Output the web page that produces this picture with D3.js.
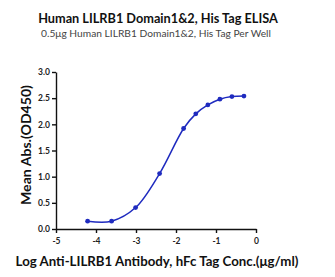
<html>
<head>
    <meta charset="utf-8">
    <script src="https://d3js.org/d3.v7.min.js"></script>
    <style>
        body {
            margin: 0;
            background-color: white;
            font-family: Lato, "Open Sans", Arial, sans-serif;
        }
        .axis path, .axis line {
            stroke: #111;
            stroke-width: 1.4px;
        }
        .axis text {
            font-family: Lato, Arial, sans-serif;
            font-weight: bold;
            font-size: 8.5px;
            fill: #222;
        }
    </style>
</head>
<body>
    <div id="chart"></div>
    <script>
        // log10 concentration (ug/ml) and mean OD450
        var logConc = [-4.21, -3.61, -3.01, -2.41, -1.81, -1.505, -1.204, -0.903, -0.602, -0.301];
        var meanAbs = [0.15, 0.15, 0.41, 1.06, 1.92, 2.20, 2.37, 2.48, 2.53, 2.54];
        var xTicks = [-5, -4, -3, -2, -1, 0];
        var yTicks = [0, 0.5, 1.0, 1.5, 2.0, 2.5, 3.0];

        var width = 335,
            height = 277,
            margin = { top: 72, right: 79, bottom: 48, left: 56 },
            color = "#1f2bbf";

        var svg = d3.select("#chart").append("svg")
            .attr("width", width)
            .attr("height", height);

        var x = d3.scaleLinear().domain([-5, 0]).range([margin.left, width - margin.right]);
        var y = d3.scaleLinear().domain([0, 3]).range([height - margin.bottom, margin.top]);

        var data = logConc.map(function (d, i) { return { x: d, y: meanAbs[i] }; });

        // scale a text's font so it spans the given width
        function fit(sel, w) {
            var fs = parseFloat(sel.style("font-size"));
            var len = sel.node().getComputedTextLength();
            sel.style("font-size", (fs * w / len).toFixed(2) + "px");
        }

        // titles
        svg.append("text")
            .attr("x", 158).attr("y", 23)
            .attr("text-anchor", "middle")
            .style("font-weight", "bold")
            .style("font-size", "12px")
            .style("fill", "#111")
            .text("Human LILRB1 Domain1&2, His Tag ELISA")
            .call(fit, 240);
        svg.append("text")
            .attr("x", 156).attr("y", 37)
            .attr("text-anchor", "middle")
            .style("font-size", "10px")
            .style("fill", "#444")
            .text("0.5\u03bcg Human LILRB1 Domain1&2, His Tag Per Well")
            .call(fit, 230);

        // axes
        svg.append("g")
            .attr("class", "axis")
            .attr("transform", "translate(0," + y(0) + ")")
            .call(d3.axisBottom(x).tickValues(xTicks).tickSize(4).tickSizeOuter(0).tickPadding(5)
                .tickFormat(function (d) { return String(d); }));

        svg.append("g")
            .attr("class", "axis")
            .attr("transform", "translate(" + x(-5) + ",0)")
            .call(d3.axisLeft(y).tickValues(yTicks).tickSize(4).tickSizeOuter(0).tickPadding(2)
                .tickFormat(function (d) { return d.toFixed(1); }));

        // axis titles
        svg.append("text")
            .attr("x", 157).attr("y", 266)
            .attr("text-anchor", "middle")
            .style("font-weight", "bold")
            .style("font-size", "11px")
            .style("fill", "#111")
            .text("Log Anti-LILRB1 Antibody, hFc Tag Conc.(\u03bcg/ml)")
            .call(fit, 283);
        svg.append("text")
            .attr("transform", "translate(31,145) rotate(-90)")
            .attr("text-anchor", "middle")
            .style("font-weight", "bold")
            .style("font-size", "11px")
            .style("fill", "#111")
            .text("Mean Abs.(OD450)")
            .call(fit, 120);

        // fitted curve
        var line = d3.line()
            .curve(d3.curveCatmullRom.alpha(0.5))
            .x(function (d) { return x(d.x); })
            .y(function (d) { return y(d.y); });

        svg.append("path")
            .datum(data)
            .attr("d", line)
            .style("fill", "none")
            .style("stroke", color)
            .style("stroke-width", 1.5);

        svg.selectAll("circle.pt")
            .data(data).enter()
            .append("circle")
            .attr("class", "pt")
            .attr("cx", function (d) { return x(d.x); })
            .attr("cy", function (d) { return y(d.y); })
            .attr("r", 2.4)
            .style("fill", color);
    </script>
</body>
</html>
